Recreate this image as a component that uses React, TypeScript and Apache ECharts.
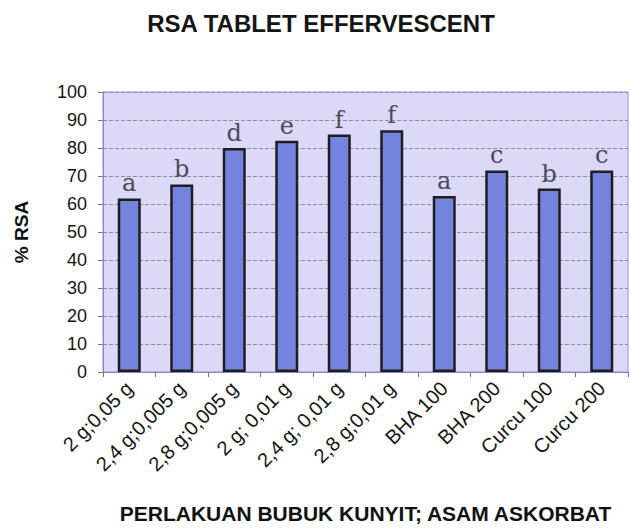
import React, { useEffect, useRef } from "react";
import * as echarts from "echarts";

const categories = [
  "2 g;0,05 g",
  "2,4 g;0,005 g",
  "2,8 g;0,005 g",
  "2 g; 0,01 g",
  "2,4 g; 0,01 g",
  "2,8 g;0,01 g",
  "BHA 100",
  "BHA 200",
  "Curcu 100",
  "Curcu 200",
];
const rsaValues = [62, 67, 80, 82.6, 84.8, 86.3, 62.9, 72, 65.5, 72];
const letters = ["a", "b", "d", "e", "f", "f", "a", "c", "b", "c"];
const yTicks = [0, 10, 20, 30, 40, 50, 60, 70, 80, 90, 100];

export default function App() {
  const ref = useRef<HTMLDivElement>(null);
  useEffect(() => {
    if (!ref.current) return;
    const chart = echarts.init(ref.current, null, { renderer: "svg" });
    const sans = "Arial, 'Liberation Sans', sans-serif";
    chart.setOption({
      animation: false,
      backgroundColor: "#ffffff",
      title: {
        text: "RSA TABLET EFFERVESCENT",
        left: 316,
        top: 6,
        textAlign: "center",
        textStyle: { fontFamily: sans, fontSize: 24, fontWeight: "bold", color: "#151515" },
      },
      grid: {
        left: 103,
        right: 2,
        top: 92,
        bottom: 156,
        show: true,
        backgroundColor: "#dcd8f8",
        borderColor: "#9d92dc",
        borderWidth: 1,
      },
      xAxis: {
        type: "category",
        data: categories,
        boundaryGap: true,
        name: "PERLAKUAN BUBUK KUNYIT; ASAM ASKORBAT",
        nameLocation: "middle",
        nameGap: 131,
        nameTextStyle: { fontFamily: sans, fontSize: 21, fontWeight: "bold", color: "#111" },
        axisLine: { lineStyle: { color: "#8a80c8", width: 1 } },
        axisTick: { show: true, length: 5, lineStyle: { color: "#777" } },
        axisLabel: {
          rotate: 45,
          interval: 0,
          margin: 13,
          fontFamily: sans,
          fontSize: 20,
          color: "#151515",
        },
      },
      yAxis: {
        type: "value",
        min: 0,
        max: 100,
        interval: 10,
        name: "% RSA",
        nameLocation: "middle",
        nameGap: 72,
        nameTextStyle: { fontFamily: sans, fontSize: 19, fontWeight: "bold", color: "#111" },
        axisLine: { show: true, lineStyle: { color: "#8a80c8", width: 1 } },
        axisTick: { show: true, length: 5, lineStyle: { color: "#777" } },
        axisLabel: {
          margin: 16,
          fontFamily: sans,
          fontSize: 18,
          color: "#151515",
          formatter: (v: number) => (yTicks.includes(v) ? String(v) : ""),
        },
        splitLine: { show: true, lineStyle: { color: "#8c8c9c", type: "dashed", width: 1 } },
      },
      series: [
        {
          type: "bar",
          data: rsaValues,
          barWidth: 23,
          itemStyle: { color: "#7484de", borderColor: "#1e1e1e", borderWidth: 2.5 },
          label: {
            show: true,
            position: "top",
            distance: 3,
            formatter: (p: any) => letters[p.dataIndex],
            fontFamily: "'DejaVu Serif', serif",
            fontSize: 24,
            color: "#4a4a5c",
          },
        },
      ],
    });
    return () => chart.dispose();
  }, []);
  return (
    <div
      ref={ref}
      style={{ position: "fixed", left: 0, top: 0, width: 630, height: 529 }}
    />
  );
}
